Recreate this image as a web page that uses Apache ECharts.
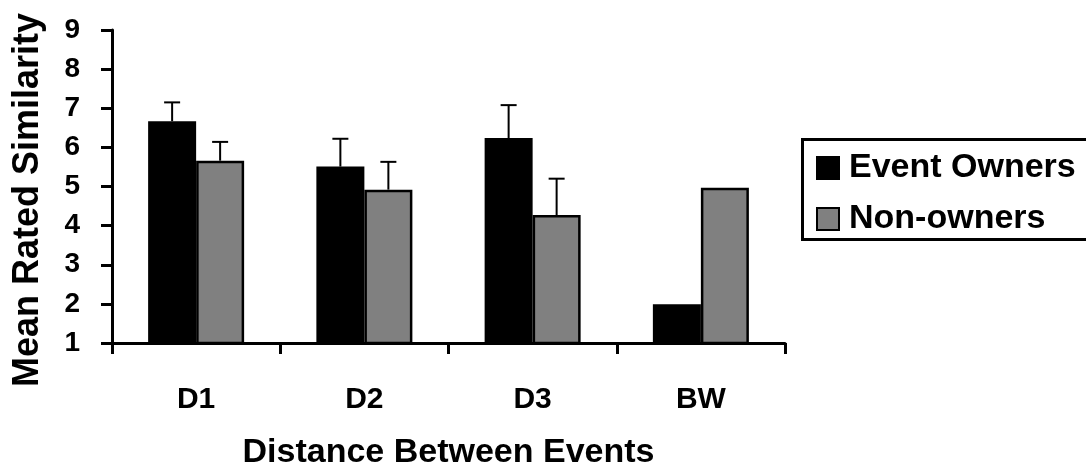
<!DOCTYPE html>
<html>
<head>
<meta charset="utf-8">
<script src="https://cdn.jsdelivr.net/npm/echarts@6/dist/echarts.min.js"></script>
<style>html,body{margin:0;padding:0;background:#fff;}#c{width:1086px;height:475px;}</style>
</head>
<body>
<div id="c"></div>
<script>
var categories = ['D1', 'D2', 'D3', 'BW'];
var seriesNames = ['Event Owners', 'Non-owners'];
var ownersValues = [6.67, 5.51, 6.24, 1.99];
var nonOwnersValues = [5.66, 4.92, 4.27, 4.97];
var ownersErrors = [0.48, 0.71, 0.84, 0];
var nonOwnersErrors = [0.48, 0.71, 0.93, 0];
var yTicks = [1, 2, 3, 4, 5, 6, 7, 8, 9];

var FONT = '"Liberation Sans", Arial, Helvetica, sans-serif';
var BAR_W = 48;

function errData(vals, errs) {
  return vals.map(function (v, i) { return [i, v, errs[i]]; });
}
function errRender(offset) {
  return function (params, api) {
    var err = api.value(2);
    if (!err) return null;
    var base = api.coord([api.value(0), api.value(1)]);
    var top = api.coord([api.value(0), api.value(1) + err]);
    var x = base[0] + offset;
    var capHalf = 8;
    return {
      type: 'group',
      children: [
        { type: 'line', shape: { x1: x, y1: base[1], x2: x, y2: top[1] }, style: { stroke: '#000', lineWidth: 2 } },
        { type: 'line', shape: { x1: x - capHalf, y1: top[1], x2: x + capHalf, y2: top[1] }, style: { stroke: '#000', lineWidth: 2 } }
      ]
    };
  };
}

var chart = echarts.init(document.getElementById('c'));
chart.setOption({
  animation: false,
  backgroundColor: '#fff',
  textStyle: { fontFamily: FONT },
  grid: { left: 112, right: 301, top: 30, bottom: 129 },
  legend: {
    orient: 'vertical',
    left: 811,
    top: 146,
    itemWidth: 22,
    itemHeight: 22,
    itemGap: 17,
    icon: 'rect',
    data: seriesNames,
    textStyle: { fontFamily: FONT, fontSize: 34, fontWeight: 'bold', color: '#000', lineHeight: 34, padding: [0, 0, 0, 5] }
  },
  graphic: [
    { type: 'rect', left: 800, top: 137, shape: { width: 300, height: 100 }, style: { fill: 'none', stroke: '#000', lineWidth: 3 }, z: 10 },
    { type: 'text', x: 28, y: 200, rotation: Math.PI / 2, style: { text: 'Mean Rated Similarity', font: 'bold 36px ' + FONT, fill: '#000', align: 'center', verticalAlign: 'middle' } }
  ],
  xAxis: {
    type: 'category',
    data: categories,
    name: 'Distance Between Events',
    nameLocation: 'middle',
    nameGap: 93,
    nameTextStyle: { fontFamily: FONT, fontSize: 34, fontWeight: 'bold', color: '#000', verticalAlign: 'top' },
    axisLine: { lineStyle: { color: '#000', width: 3 } },
    axisTick: { show: true, length: 11, lineStyle: { color: '#000', width: 3 } },
    axisLabel: { fontFamily: FONT, fontSize: 30, fontWeight: 'bold', color: '#000', margin: 42 },
    splitLine: { show: false }
  },
  yAxis: {
    type: 'value',
    min: 1,
    max: 9,
    interval: 1,
    axisLine: { show: true, lineStyle: { color: '#000', width: 3 } },
    axisTick: { show: true, length: 11, lineStyle: { color: '#000', width: 3 } },
    axisLabel: { fontFamily: FONT, fontSize: 28, fontWeight: 'bold', color: '#000', margin: 32,
      formatter: function (v) { return yTicks.indexOf(v) >= 0 ? String(v) : ''; } },
    splitLine: { show: false }
  },
  series: [
    { name: seriesNames[0], type: 'bar', data: ownersValues, barWidth: BAR_W, barGap: '0%',
      itemStyle: { color: '#000', borderColor: '#000', borderWidth: 2 } },
    { name: seriesNames[1], type: 'bar', data: nonOwnersValues, barWidth: BAR_W, barGap: '0%',
      itemStyle: { color: '#808080', borderColor: '#000', borderWidth: 2.5 } },
    { type: 'custom', renderItem: errRender(-BAR_W / 2), data: errData(ownersValues, ownersErrors), z: 5, silent: true },
    { type: 'custom', renderItem: errRender(BAR_W / 2), data: errData(nonOwnersValues, nonOwnersErrors), z: 5, silent: true }
  ]
});
</script>
</body>
</html>
